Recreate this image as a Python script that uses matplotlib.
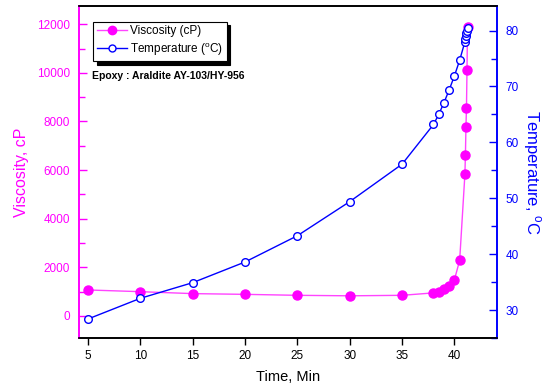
import numpy as np
import matplotlib
matplotlib.use('Agg')
import matplotlib.pyplot as plt
from matplotlib.lines import Line2D
from matplotlib.ticker import MultipleLocator

plt.rcParams['font.family'] = ['Liberation Sans', 'DejaVu Sans']

# data
t_visc = [5, 10, 15, 20, 25, 30, 35, 38, 38.5, 39, 39.5, 40, 40.5,
          41.0, 41.05, 41.1, 41.15, 41.2, 41.25]
viscosity = [1070, 1000, 920, 890, 850, 830, 850, 950, 1000, 1100, 1240, 1490, 2290,
             5820, 6630, 7760, 8550, 10100, 11900]

t_temp = [5, 10, 15, 20, 25, 30, 35, 38, 38.5, 39, 39.5, 40, 40.5,
          41.0, 41.05, 41.1, 41.15, 41.2, 41.25]
temperature = [28.4, 32.1, 34.9, 38.6, 43.3, 49.4, 56.1, 63.2, 65.0, 67.1, 69.4, 71.9, 74.7,
               78.0, 78.5, 79.1, 79.6, 80.0, 80.4]

xticks = [5, 10, 15, 20, 25, 30, 35, 40]

MAG = '#ff00ff'
BLUE = '#0000ff'

fig = plt.figure(figsize=(5.48, 3.88), dpi=100)
ax = fig.add_axes([0.1434, 0.1289, 0.907 - 0.1434, 0.9845 - 0.1289])
ax2 = ax.twinx()

ax.plot(t_visc, viscosity, color='#ff44ff', lw=1.0, marker='o', ms=6.5,
        mfc=MAG, mec=MAG, zorder=3)
ax2.plot(t_temp, temperature, color=BLUE, lw=1.0, marker='o', ms=5.5,
         mfc='white', mec=BLUE, mew=1.0, zorder=3)

ax.set_xlim(4.1, 44.07)
ax.set_ylim(-905, 12750)
ax2.set_ylim(25.0, 84.4)

ax.set_xticks(xticks)
ax.yaxis.set_major_locator(MultipleLocator(2000))
ax.yaxis.set_minor_locator(MultipleLocator(1000))
ax2.yaxis.set_major_locator(MultipleLocator(10))
ax2.yaxis.set_minor_locator(MultipleLocator(5))

ax.tick_params(axis='x', direction='out', length=5, width=1, labelsize=8.5, colors='black')
ax.tick_params(axis='y', which='major', direction='in', length=6, width=1,
               labelsize=8.5, colors=MAG, pad=6)
ax.tick_params(axis='y', which='minor', direction='in', length=4, width=1, colors=MAG)
ax2.tick_params(axis='y', which='major', direction='in', length=6, width=1,
                labelsize=8.5, colors=BLUE, pad=6)
ax2.tick_params(axis='y', which='minor', direction='in', length=4, width=1, colors=BLUE)

for a in (ax, ax2):
    a.spines['left'].set_color(MAG)
    a.spines['right'].set_color(BLUE)
    a.spines['top'].set_color('black')
    a.spines['bottom'].set_color('black')
    for s in a.spines.values():
        s.set_linewidth(1.2)

ax.set_xlabel('Time, Min', fontsize=10.5, labelpad=6)
ax.set_ylabel('Viscosity, cP', fontsize=11.5, color=MAG, labelpad=6)
ax2.set_ylabel('Temperature, $^{\\mathregular{o}}$C', fontsize=12, color=BLUE,
               rotation=270, labelpad=17)

handles = [Line2D([], [], color='#ff44ff', lw=1.0, marker='o', ms=6, mfc=MAG, mec=MAG),
           Line2D([], [], color=BLUE, lw=1.0, marker='o', ms=5, mfc='white', mec=BLUE)]
leg = ax.legend(handles, ['Viscosity (cP)', 'Temperature ($^{\\mathregular{o}}$C)'],
                loc='upper left', bbox_to_anchor=(0.035, 0.953), borderaxespad=0,
                fontsize=8.5, fancybox=False, framealpha=1, edgecolor='black',
                numpoints=1, handlelength=2.6, handletextpad=0.2, borderpad=0.3,
                labelspacing=0.3,
                shadow={'color': 'black', 'alpha': 1, 'ox': 2.5, 'oy': -2.5})
leg.get_frame().set_linewidth(0.8)
leg.set_zorder(10)

ax.text(0.033, 0.789, 'Epoxy : Araldite AY-103/HY-956', transform=ax.transAxes,
        fontsize=7.5, fontweight='bold', va='center', ha='left')

fig.savefig('out.png', dpi=100)
